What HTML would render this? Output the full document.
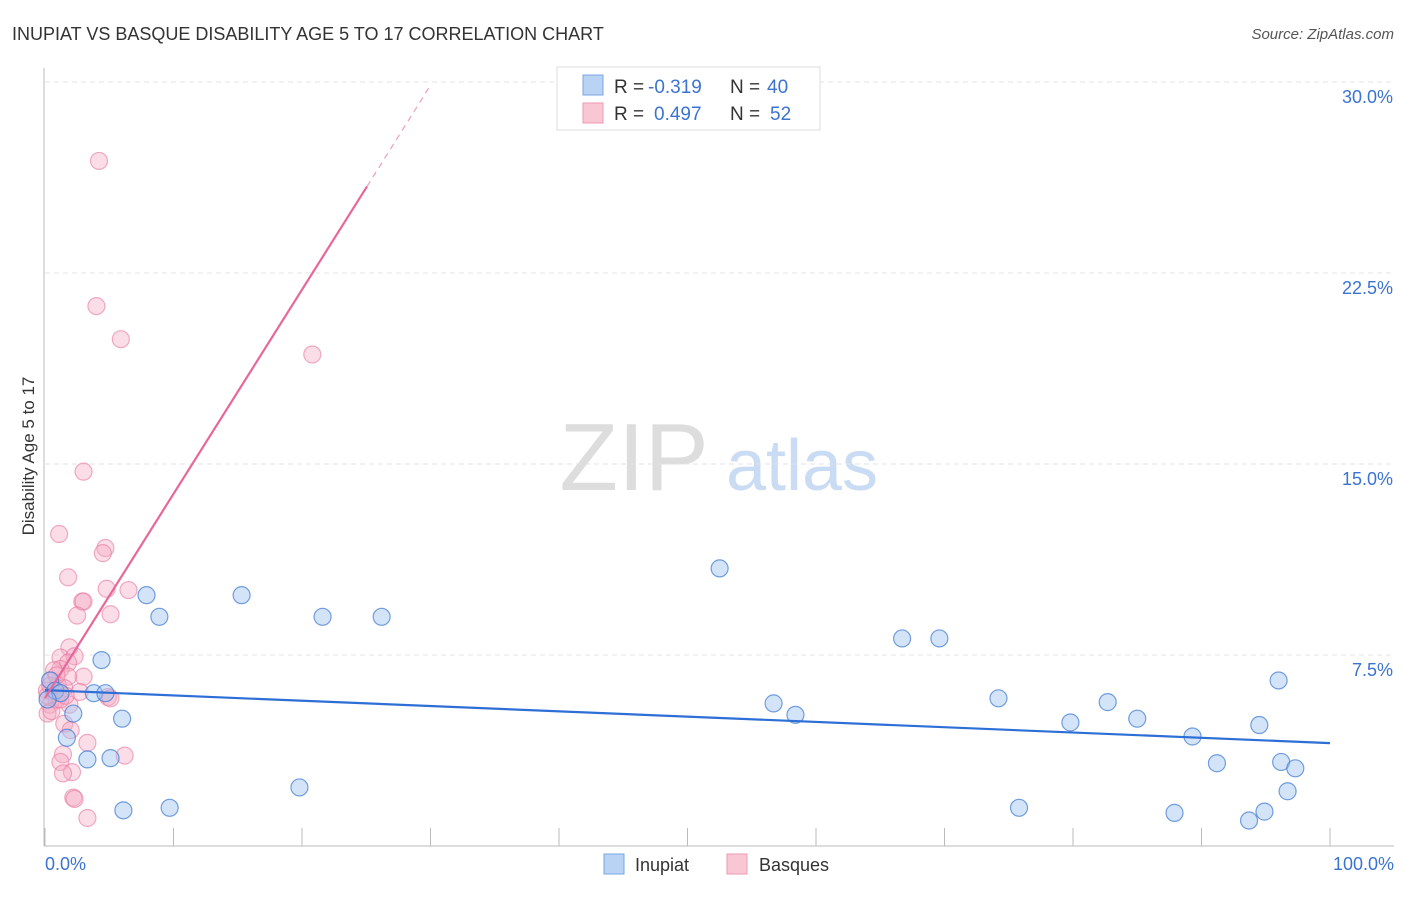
<!DOCTYPE html>
<html><head><meta charset="utf-8"><style>
body{margin:0;background:#fff;font-family:"Liberation Sans",sans-serif}
svg text{font-family:"Liberation Sans",sans-serif}
</style></head><body>
<svg id="c" width="1406" height="892" viewBox="0 0 1406 892">
<text x="12" y="40" font-size="18" fill="#333">INUPIAT VS BASQUE DISABILITY AGE 5 TO 17 CORRELATION CHART</text>
<text x="1394" y="39" font-size="15" fill="#555" text-anchor="end" font-style="italic">Source: ZipAtlas.com</text>
<text x="34" y="456" font-size="17" fill="#333" text-anchor="middle" transform="rotate(-90 34 456)">Disability Age 5 to 17</text>
<g><text x="634" y="490" font-size="96" fill="#ddd" text-anchor="middle" font-family="Liberation Serif,serif">ZIP</text><text x="802" y="490" font-size="72" fill="#c9dcf3" text-anchor="middle">atlas</text></g>
<g id="grid"></g><g id="marks"></g>
<g>
<rect x="557" y="67" width="263" height="63" fill="#fff" stroke="#ddd"/>
<rect x="583" y="75" width="20" height="20" fill="#b9d3f5" stroke="#7aa6e0"/>
<rect x="583" y="103" width="20" height="20" fill="#f9c6d4" stroke="#ef98b3"/>
<text x="614" y="93" font-size="19" fill="#333">R =</text>
<text x="648" y="93" font-size="19" fill="#3b73d1">-0.319</text>
<text x="730" y="93" font-size="19" fill="#333">N =</text>
<text x="767" y="93" font-size="19" fill="#3b73d1">40</text>
<text x="614" y="120" font-size="19" fill="#333">R =</text>
<text x="654" y="120" font-size="19" fill="#3b73d1">0.497</text>
<text x="730" y="120" font-size="19" fill="#333">N =</text>
<text x="770" y="120" font-size="19" fill="#3b73d1">52</text>
</g>
<g>
<rect x="604" y="854" width="20" height="20" fill="#b9d3f5" stroke="#7aa6e0"/><text x="635" y="871" font-size="18" fill="#333">Inupiat</text>
<rect x="727" y="854" width="20" height="20" fill="#f9c6d4" stroke="#ef98b3"/><text x="759" y="871" font-size="18" fill="#333">Basques</text>
</g>
</svg>
<script>
const yTicks=[7.5,15,22.5,30];
const yTickLabels=["7.5%","15.0%","22.5%","30.0%"];
const xTicks=[0,10,20,30,40,50,60,70,80,90,100];
const inupiatX=[7.9,15.3,8.9,21.6,26.2,4.4,3.8,4.7,2.2,6.0,1.7,3.3,5.1,6.1,9.7,19.8,52.5,66.7,69.6,56.7,58.4,74.2,79.8,82.7,85.0,89.3,91.2,96.0,94.5,96.2,97.3,96.7,75.8,87.9,93.7,94.9,0.4,0.8,1.2,0.2];
const inupiatY=[9.85,9.85,9.0,9.0,9.0,7.3,6.0,6.0,5.2,5.0,4.25,3.4,3.45,1.4,1.5,2.3,10.9,8.15,8.15,5.6,5.15,5.8,4.85,5.65,5.0,4.3,3.25,6.5,4.75,3.3,3.05,2.15,1.5,1.3,1.0,1.35,6.5,6.1,6.0,5.75];
const basqueX=[4.2,4.0,5.9,20.8,3.0,1.1,4.7,4.5,1.8,4.8,6.5,2.9,3.0,5.1,2.5,1.9,1.2,2.3,1.8,1.2,0.7,3.0,1.8,0.5,1.0,0.15,1.5,2.7,0.7,4.9,0.4,1.9,0.2,0.5,1.5,2.0,5.1,3.3,1.4,6.2,1.2,2.1,1.4,2.2,2.3,3.3,0.9,0.2,1.2,0.4,0.9,1.6];
const basqueY=[26.9,21.2,19.9,19.3,14.7,12.25,11.7,11.5,10.55,10.1,10.05,9.6,9.6,9.1,9.05,7.8,7.4,7.45,7.2,6.95,6.9,6.65,6.65,6.5,6.3,6.1,6.2,6.05,6.0,5.85,5.55,5.55,5.2,5.3,4.8,4.55,5.8,4.05,3.6,3.55,3.3,2.9,2.85,1.9,1.85,1.1,5.75,5.9,5.75,6.3,6.7,5.9];
const inupiatTrend=[[0,6.12],[100,4.04]];
const basqueTrend=[[0,5.81],[25.06,25.9],[29.96,29.84]];
const X=v=>45+v*12.85, Y=v=>846-v*25.467;
const NS="http://www.w3.org/2000/svg";
function mk(t,a,p){const e=document.createElementNS(NS,t);for(const k in a)e.setAttribute(k,a[k]);p.appendChild(e);return e;}
const gridG=document.getElementById('grid'), marksG=document.getElementById('marks');
yTicks.forEach((v,i)=>{
 const l=mk('line',{x1:45,x2:1394,y1:Y(v),y2:Y(v),stroke:'#e3e3e3','stroke-dasharray':'5,4'},gridG);
 
 
 const t=mk('text',{x:1393,y:Y(v)+21,'font-size':18,fill:'#3b73d1','text-anchor':'end'},gridG);
 t.textContent=yTickLabels[i];
 
 
});
const ax=mk('line',{x1:44,x2:44,y1:68,y2:846,stroke:'#bbb'},gridG);


const bx=mk('line',{x1:44,x2:1394,y1:846,y2:846,stroke:'#bbb'},gridG);


xTicks.forEach(v=>{const l=mk('line',{x1:X(v),x2:X(v),y1:828,y2:846,stroke:'#bbb'},gridG);
 
 });
[[0,'0.0%',45,'start'],[100,'100.0%',1394,'end']].forEach(a=>{const t=mk('text',{x:a[2],y:870,'font-size':18,fill:'#3b73d1','text-anchor':a[3]},gridG);t.textContent=a[1];
 
 });
basqueX.forEach((v,i)=>{const c=mk('circle',{cx:X(v),cy:Y(basqueY[i]),r:8.5,fill:'rgba(246,170,194,0.4)',stroke:'rgba(232,120,160,0.6)','stroke-width':1.2},marksG);
 
 });
inupiatX.forEach((v,i)=>{const c=mk('circle',{cx:X(v),cy:Y(inupiatY[i]),r:8.5,fill:'rgba(160,196,240,0.45)',stroke:'rgba(60,120,210,0.7)','stroke-width':1.2},marksG);
 
 });
const l1=mk('line',{x1:X(inupiatTrend[0][0]),y1:Y(inupiatTrend[0][1]),x2:X(inupiatTrend[1][0]),y2:Y(inupiatTrend[1][1]),stroke:'#2d6fd6','stroke-width':2.2},marksG);


const l2=mk('line',{x1:X(basqueTrend[0][0]),y1:Y(basqueTrend[0][1]),x2:X(basqueTrend[1][0]),y2:Y(basqueTrend[1][1]),stroke:'#e8679a','stroke-width':2.2},marksG);


const l3=mk('line',{x1:X(basqueTrend[1][0]),y1:Y(basqueTrend[1][1]),x2:X(basqueTrend[2][0]),y2:Y(basqueTrend[2][1]),stroke:'#eaa0bc','stroke-width':1.2,'stroke-dasharray':'6,5'},marksG);


</script>
</body></html>
